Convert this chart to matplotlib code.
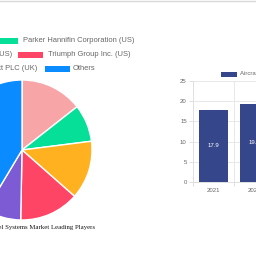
import matplotlib
matplotlib.use("Agg")
import matplotlib.pyplot as plt
from matplotlib.patches import Rectangle
from matplotlib.lines import Line2D

# ---- data ----
players = ["Eaton Corporation PLC (Ireland)", "Parker Hannifin Corporation (US)",
           "Woodward, Inc. (US)", "Triumph Group Inc. (US)",
           "Meggitt PLC (UK)", "Others"]
shares = [14.4, 8.6, 13.5, 13.8, 8.3, 41.4]
pie_colors = ["#f7a5a7", "#05df98", "#ffb11f", "#ff4565", "#7c5bd5", "#0a8bff"]

years = ["2021", "2022"]
market_size = [17.9, 19.4]
bar_label = "Aircraft Fuel Systems Market"
bar_color = "#35468a"
y_ticks = [0, 5, 10, 15, 20, 25]

W = H = 256
fig = plt.figure(figsize=(2.56, 2.56), dpi=100)
fig.patch.set_facecolor("white")

def fx(px):
    return px / W

def fy(py):
    return 1 - py / H

# top separator line
fig.add_artist(Line2D([0, 1], [fy(0.5), fy(0.5)], color="#d8d8d8", lw=1.0))

# ---- pie ----
cx, cy, r = 22, 150, 70
axp = fig.add_axes([fx(cx - r), fy(cy + r), fx(2 * r), 2 * r / H])
axp.pie(shares, colors=pie_colors, startangle=90, counterclock=False,
        wedgeprops=dict(edgecolor="white", linewidth=1.0))
axp.set_xlim(-1, 1)
axp.set_ylim(-1, 1)
axp.set_axis_off()

# pie legend (rows as in reference)
leg_rows = [
    [(0, None, 1), (1, -7, 23)],
    [(2, None, 12), (3, 18, 48)],
    [(4, None, 37), (5, 45, 73)],
]
row_y = [41, 55, 69]
txt_kw = dict(fontsize=5.4, color="#666666", family="Liberation Sans", va="center")
renderer = fig.canvas.get_renderer()
for ry, row in zip(row_y, leg_rows):
    for idx, bx, tx in row:
        if bx is None:
            t = fig.text(fx(tx), fy(ry), players[idx], ha="right", **txt_kw)
            ext = t.get_window_extent(renderer=renderer)
            left_px = ext.x0
            fig.add_artist(Rectangle((fx(left_px - 30), fy(ry + 3)), fx(25), 6 / H,
                                     facecolor=pie_colors[idx], edgecolor="none"))
        else:
            fig.add_artist(Rectangle((fx(bx), fy(ry + 3)), fx(25), 6 / H,
                                     facecolor=pie_colors[idx], edgecolor="none"))
            fig.text(fx(tx), fy(ry), players[idx], ha="left", **txt_kw)

fig.text(fx(95), fy(227.5), "Aircraft Fuel Systems Market Leading Players",
         ha="right", va="center", fontsize=4.85, family="Liberation Serif", color="#111111")

# ---- bar chart ----
x0, y0, ytop = 193, 182, 81
cat_w = 40.7
axb = fig.add_axes([fx(x0), fy(y0), fx(cat_w * len(years)), (y0 - ytop) / H])
xs = list(range(len(years)))
bars = axb.bar(xs, market_size, width=0.7, color=bar_color, zorder=3)
axb.set_xlim(-0.5, len(years) - 0.5)
axb.set_ylim(0, 25)
axb.set_yticks(y_ticks)
axb.set_xticks(xs)
axb.set_xticklabels(years)
axb.set_xticks([i - 0.5 for i in range(len(years) + 1)], minor=True)
axb.tick_params(axis="both", which="major", labelsize=4.3, labelcolor="#666666",
                color="#e0e0e0", length=3, width=0.7, pad=1.5)
axb.tick_params(axis="x", which="major", length=0, pad=4)
axb.tick_params(axis="x", which="minor", length=3, color="#e0e0e0", width=0.7)
axb.grid(True, axis="y", color="#e8e8e8", lw=0.7, zorder=0)
axb.grid(True, axis="x", which="minor", color="#e8e8e8", lw=0.7, zorder=0)
for s in ["top", "right"]:
    axb.spines[s].set_visible(False)
for s in ["left", "bottom"]:
    axb.spines[s].set_color("#e0e0e0")
    axb.spines[s].set_linewidth(0.7)
for lab in axb.get_xticklabels() + axb.get_yticklabels():
    lab.set_family("Liberation Sans")
for rect, v in zip(bars, market_size):
    axb.text(rect.get_x() + rect.get_width() / 2, v / 2, f"{v}", ha="center", va="center",
             color="white", fontsize=4.3, family="Liberation Sans", zorder=4)

# bar legend
fig.add_artist(Rectangle((fx(221), fy(76.5)), fx(16), 5 / H, facecolor=bar_color, edgecolor="none"))
fig.text(fx(240), fy(74), bar_label, ha="left", va="center", fontsize=4.3,
         color="#666666", family="Liberation Sans")

fig.savefig("out.png", dpi=100, facecolor="white")
